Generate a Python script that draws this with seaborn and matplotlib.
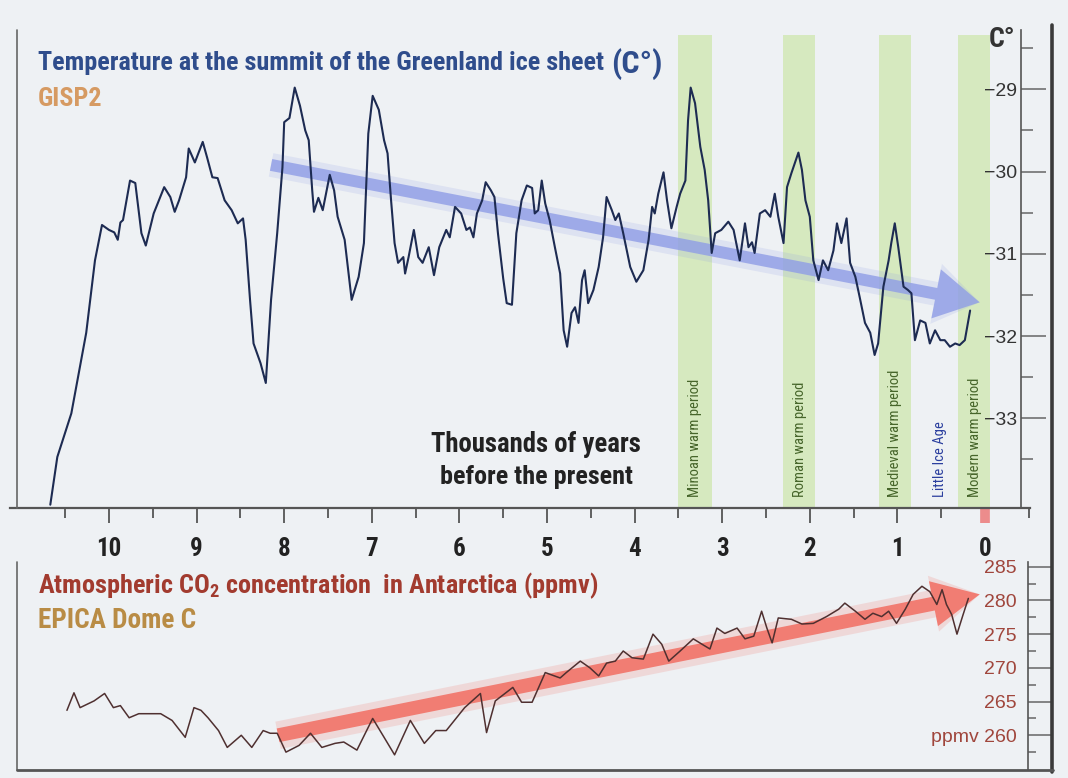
import numpy as np
import pandas as pd
import matplotlib
matplotlib.use("Agg")
import matplotlib.pyplot as plt
import seaborn as sns
from matplotlib.lines import Line2D
from matplotlib.ticker import FixedLocator
import matplotlib.transforms as mtransforms

# ---------------- data ----------------
temp_kyr = [10.67, 10.59, 10.43, 10.26, 10.16, 10.08, 10.00, 9.94, 9.90, 9.87, 9.84, 9.76, 9.70, 9.63, 9.58,
            9.49, 9.37, 9.30, 9.25, 9.20, 9.12, 9.09, 9.02, 8.93, 8.88, 8.82, 8.76, 8.68, 8.60, 8.53, 8.47,
            8.44, 8.39, 8.35, 8.27, 8.21, 8.15, 8.08, 8.02, 8.00, 7.94, 7.88, 7.82, 7.76, 7.72, 7.68, 7.66,
            7.61, 7.56, 7.48, 7.43, 7.39, 7.31, 7.23, 7.15, 7.09, 7.04, 6.99, 6.92, 6.86, 6.82, 6.78, 6.74,
            6.70, 6.64, 6.62, 6.58, 6.52, 6.47, 6.42, 6.35, 6.29, 6.23, 6.15, 6.11, 6.05, 5.98, 5.92, 5.88,
            5.84, 5.80, 5.74, 5.70, 5.64, 5.60, 5.56, 5.50, 5.46, 5.40, 5.35, 5.29, 5.23, 5.17, 5.14, 5.10,
            5.06, 5.02, 4.97, 4.91, 4.85, 4.81, 4.77, 4.72, 4.68, 4.64, 4.60, 4.57, 4.53, 4.47, 4.41, 4.36,
            4.32, 4.26, 4.22, 4.18, 4.13, 4.05, 3.98, 3.90, 3.84, 3.80, 3.77, 3.73, 3.67, 3.63, 3.58, 3.52,
            3.48, 3.42, 3.39, 3.36, 3.31, 3.25, 3.20, 3.16, 3.12, 3.08, 3.01, 2.93, 2.87, 2.80, 2.74, 2.70,
            2.66, 2.63, 2.57, 2.51, 2.45, 2.40, 2.36, 2.30, 2.26, 2.21, 2.13, 2.09, 2.05, 2.00, 1.96, 1.90,
            1.85, 1.79, 1.73, 1.69, 1.64, 1.58, 1.54, 1.48, 1.43, 1.37, 1.31, 1.26, 1.22, 1.16, 1.10, 1.07,
            1.03, 0.99, 0.93, 0.88, 0.84, 0.80, 0.74, 0.68, 0.63, 0.57, 0.51, 0.46, 0.40, 0.34, 0.29, 0.23,
            0.17]
temp_c = [-34.05, -33.47, -32.94, -31.96, -31.08, -30.65, -30.71, -30.74, -30.83, -30.62, -30.59, -30.11,
          -30.14, -30.75, -30.90, -30.51, -30.19, -30.31, -30.49, -30.35, -30.07, -29.72, -29.89, -29.64,
          -29.83, -30.07, -30.08, -30.35, -30.47, -30.63, -30.57, -30.83, -31.56, -32.09, -32.33, -32.57,
          -31.56, -30.75, -29.95, -29.40, -29.35, -28.98, -29.20, -29.50, -29.62, -30.23, -30.49, -30.32,
          -30.47, -30.04, -30.23, -30.55, -30.83, -31.56, -31.28, -30.87, -29.54, -29.08, -29.25, -29.62,
          -29.78, -30.35, -30.87, -31.11, -31.04, -31.24, -31.04, -30.71, -31.04, -31.11, -30.92, -31.26,
          -30.92, -30.71, -30.80, -30.43, -30.51, -30.71, -30.68, -30.80, -30.51, -30.35, -30.13, -30.23,
          -30.31, -30.75, -31.30, -31.60, -31.62, -30.75, -30.35, -30.17, -30.20, -30.51, -30.47, -30.11,
          -30.39, -30.59, -30.92, -31.24, -31.93, -32.13, -31.72, -31.65, -31.84, -31.32, -31.20, -31.60,
          -31.44, -31.16, -30.80, -30.31, -30.47, -30.59, -30.51, -30.75, -31.16, -31.34, -31.20, -30.83,
          -30.43, -30.51, -30.27, -30.01, -30.35, -30.69, -30.43, -30.27, -30.11, -29.38, -28.98, -29.17,
          -29.70, -29.98, -30.35, -30.99, -30.75, -30.71, -30.61, -30.71, -31.08, -30.63, -30.92, -30.86,
          -30.99, -30.51, -30.47, -30.55, -30.27, -30.55, -30.87, -30.19, -30.02, -29.77, -29.98, -30.35,
          -30.55, -31.08, -31.32, -31.08, -31.20, -30.96, -30.63, -30.87, -30.57, -31.11, -31.28, -31.53,
          -31.84, -31.96, -32.23, -32.09, -31.40, -31.08, -30.87, -30.63, -30.92, -31.40, -31.44, -31.48,
          -32.05, -31.81, -31.84, -32.09, -31.93, -32.05, -32.05, -32.13, -32.09, -32.11, -32.05, -31.69]

co2_kyr = [10.48, 10.40, 10.33, 10.17, 10.05, 9.95, 9.87, 9.77, 9.66, 9.41, 9.28, 9.13, 9.03, 8.95, 8.87,
           8.75, 8.65, 8.49, 8.37, 8.24, 8.16, 8.08, 7.98, 7.83, 7.70, 7.57, 7.42, 7.32, 7.17, 6.99, 6.86,
           6.74, 6.56, 6.40, 6.27, 6.15, 5.94, 5.76, 5.69, 5.59, 5.39, 5.29, 5.17, 5.02, 4.85, 4.78, 4.62,
           4.51, 4.41, 4.32, 4.22, 4.13, 4.03, 3.90, 3.79, 3.69, 3.61, 3.48, 3.33, 3.23, 3.14, 3.06, 2.97,
           2.83, 2.74, 2.64, 2.55, 2.49, 2.43, 2.36, 2.21, 2.09, 1.96, 1.81, 1.67, 1.60, 1.48, 1.37, 1.28,
           1.18, 1.10, 1.01, 0.91, 0.82, 0.72, 0.63, 0.55, 0.49, 0.44, 0.38, 0.32, 0.25, 0.19]
co2_ppmv = [263.7, 266.3, 264.1, 265.1, 266.2, 264.1, 264.4, 262.6, 263.2, 263.2, 262.2, 259.7, 264.1, 263.7,
            262.6, 260.7, 258.2, 260.0, 258.2, 260.7, 260.3, 260.3, 257.5, 258.5, 260.3, 258.2, 258.8, 259.0,
            257.8, 262.5, 259.7, 257.1, 262.2, 258.8, 260.7, 260.7, 264.1, 266.2, 260.4, 265.1, 267.1, 264.9,
            264.9, 269.3, 268.5, 269.3, 271.0, 270.0, 268.8, 270.7, 271.0, 272.5, 271.5, 271.3, 275.0, 273.5,
            271.0, 272.5, 274.3, 273.5, 272.8, 275.9, 275.1, 275.9, 274.3, 274.7, 278.4, 275.9, 273.7, 277.4,
            277.2, 276.5, 276.6, 277.6, 278.7, 279.6, 278.4, 277.2, 278.1, 277.6, 278.4, 276.6, 278.7, 280.9,
            282.1, 281.3, 279.4, 281.6, 279.4, 277.9, 275.0, 277.9, 280.3]

# trend arrows (start, end) in data units
temp_trend_kyr = [8.15, 0.06]
temp_trend_c = [-29.92, -31.59]
co2_trend_kyr = [8.07, 0.06]
co2_trend_ppmv = [260.0, 280.9]

# warm periods (green bands)
period_names = ["Minoan warm period", "Roman warm period", "Medieval warm period", "Modern warm period"]
period_start = [3.50, 2.31, 1.21, 0.31]
period_end = [3.12, 1.94, 0.84, -0.06]
label_names = ["Minoan warm period", "Roman warm period", "Medieval warm period", "Little Ice Age",
               "Modern warm period"]
label_kyr = [3.31, 2.11, 1.03, 0.51, 0.11]

x_ticks = list(range(0, 11))
x_labels = [str(v) for v in x_ticks]
temp_ticks = [-33, -32, -31, -30, -29]
temp_labels = ["\u221233", "\u221232", "\u221231", "\u221230", "\u221229"]
co2_ticks = [260, 265, 270, 275, 280, 285]
co2_labels = ["ppmv 260", "265", "270", "275", "280", "285"]

# ---------------- style ----------------
sns.set_theme(style="white")
NARROW = ["Roboto Condensed", "Liberation Sans Narrow", "Liberation Sans", "DejaVu Sans"]
REG = ["Liberation Sans", "DejaVu Sans"]
plt.rcParams["font.family"] = NARROW
plt.rcParams["mathtext.default"] = "regular"

W, H = 1068, 778
BG = "#eef1f4"
fig = plt.figure(figsize=(W / 100, H / 100), dpi=100)
fig.patch.set_facecolor(BG)


def box(x0, y0, x1, y1):
    return [x0 / W, 1 - y1 / H, (x1 - x0) / W, (y1 - y0) / H]


def px2kyr(p):
    return (985 - p) / 87.6


ax1 = fig.add_axes(box(10, 30, 1030, 508))
ax2 = fig.add_axes(box(17, 562, 1028, 770))
for ax in (ax1, ax2):
    ax.set_facecolor("none")

# ---- top panel ----
ax1.set_xlim(px2kyr(10), px2kyr(1030))
ax1.set_ylim(-34.09, -28.28)

for s, e in zip(period_start, period_end):
    ax1.axvspan(s, e, ymin=0.0, ymax=0.99, color="#d2e8b6", alpha=0.85, lw=0, zorder=0)


def trend_arrow(ax, xs, ys, color, tail, hw, hl, alpha):
    for tw_scale, hw_add, a in [(2.0, 0.8, alpha * 0.22), (1.0, 0.0, alpha)]:
        ax.annotate("", xy=(xs[1], ys[1]), xytext=(xs[0], ys[0]),
                    arrowprops=dict(arrowstyle=f"simple,head_length={hl},head_width={hw + hw_add},"
                                               f"tail_width={tail * tw_scale}",
                                    mutation_scale=10, color=color, alpha=a, lw=0,
                                    shrinkA=0, shrinkB=0), zorder=2)


trend_arrow(ax1, temp_trend_kyr, temp_trend_c, "#8f9de6", 0.86, 3.6, 3.2, 0.8)

sns.lineplot(x=temp_kyr, y=temp_c, ax=ax1, color="#1d2b52", lw=1.5, estimator=None, sort=False, zorder=3)

ax1.set_xlabel("")
ax1.set_ylabel("")
for sp in ("top", "right"):
    ax1.spines[sp].set_visible(False)
ax1.spines["bottom"].set_color("#555555")
ax1.spines["bottom"].set_linewidth(1.6)
ax1.spines["left"].set_position(("axes", (1021 - 10) / (1030 - 10)))
ax1.spines["left"].set_color("#555555")
ax1.spines["left"].set_linewidth(1.2)

ax1.set_xticks(x_ticks, labels=x_labels, fontsize=18, fontweight="bold", color="#222222")
ax1.xaxis.set_minor_locator(FixedLocator([v + 0.5 for v in range(-1, 11)]))
ax1.tick_params(axis="x", which="major", direction="out", length=11, width=1.3, color="#555555", pad=10,
                bottom=True)
ax1.tick_params(axis="x", which="minor", direction="out", length=7, width=1.3, color="#555555", bottom=True)
for t in ax1.xaxis.get_major_ticks():
    if t.get_loc() == 0:
        t.tick1line.set_markeredgecolor("#ec8c8c")
        t.tick1line.set_markeredgewidth(7)

ax1.set_yticks(temp_ticks, labels=temp_labels, fontsize=14, color="#333333", fontfamily=REG)
ax1.yaxis.set_minor_locator(FixedLocator([-33.5, -32.5, -31.5, -30.5, -29.5, -28.5]))
ax1.tick_params(axis="y", which="major", direction="in", length=18, width=1.1, color="#666666", pad=3,
                left=True, right=False)
ax1.tick_params(axis="y", which="minor", direction="in", length=8.5, width=1.1, color="#666666",
                left=True, right=False)

trans1 = mtransforms.blended_transform_factory(ax1.transData, ax1.transAxes)
for name, kx in zip(label_names, label_kyr):
    col = "#2b3f9e" if name == "Little Ice Age" else "#46652a"
    ax1.text(kx, 0.023, name, rotation=90, ha="center", va="bottom", fontsize=10.5,
             color=col, transform=trans1, zorder=4)

# ---- bottom panel ----
ax2.set_xlim(px2kyr(17), px2kyr(1028))
ax2.set_ylim(254.85, 285.7)
trend_arrow(ax2, co2_trend_kyr, co2_trend_ppmv, "#f2665a", 1.0, 3.3, 3.4, 0.8)
sns.lineplot(x=co2_kyr, y=co2_ppmv, ax=ax2, color="#4f3030", lw=1.1, estimator=None, sort=False, zorder=3)
ax2.set_xlabel("")
ax2.set_ylabel("")
for sp in ("top", "right", "bottom"):
    ax2.spines[sp].set_visible(False)
ax2.spines["left"].set_position(("axes", 1.0))
ax2.spines["left"].set_color("#555555")
ax2.spines["left"].set_linewidth(1.2)
ax2.set_xticks([])
ax2.set_yticks(co2_ticks, labels=co2_labels, fontsize=14, color="#a0463c", fontfamily=REG)
ax2.yaxis.set_minor_locator(FixedLocator([257.5, 262.5, 267.5, 272.5, 277.5, 282.5]))
ax2.tick_params(axis="y", which="major", direction="in", length=17, width=1.1, color="#666666", pad=8,
                left=True, right=False)
ax2.tick_params(axis="y", which="minor", direction="in", length=6, width=1.1, color="#666666",
                left=True, right=False)


# ---- frame lines ----
def fline(xs, ys, **kw):
    fig.add_artist(Line2D([x / W for x in xs], [1 - y / H for y in ys], **kw))


fline([17, 17], [30, 508], color="#666666", lw=1.2)
fline([17, 17], [562, 770], color="#666666", lw=1.2)
fline([1052, 1052], [25, 772], color="#3a3a3a", lw=2.6)
fline([17, 1053], [770, 770], color="#555555", lw=2.0)

# ---- texts ----
renderer = fig.canvas.get_renderer()


def ftext(x, y, s, width=None, **kw):
    t = fig.text(x / W, 1 - y / H, s, **kw)
    if width is not None:
        w = t.get_window_extent(renderer).width
        t.set_fontsize(t.get_fontsize() * width / w)
    return t


t1 = ftext(38, 70, "Temperature at the summit of the Greenland ice sheet", width=567, fontsize=18,
           fontweight="bold", color="#2f4d8c", va="baseline", ha="left")
x_end = t1.get_window_extent(renderer).x1
ftext(x_end + 7, 73, "(C\u00b0)", fontsize=23, fontweight="bold", color="#2f4d8c", va="baseline", ha="left")
ftext(38, 106, "GISP2", width=65, fontsize=15, fontweight="bold", color="#d69a62", va="baseline", ha="left")
ftext(1015, 47, "C\u00b0", fontsize=20, fontweight="bold", color="#333333", va="baseline", ha="right")
ftext(536, 452, "Thousands of years", width=210, fontsize=18, fontweight="bold", color="#222222",
      va="baseline", ha="center")
ftext(536, 484, "before the present", width=193, fontsize=18, fontweight="bold", color="#222222",
      va="baseline", ha="center")
ftext(38, 593, "Atmospheric CO$_2$ concentration  in Antarctica (ppmv)", width=560, fontsize=17.5,
      fontweight="bold", color="#a23b2f", va="baseline", ha="left")
ftext(38, 628, "EPICA Dome C", width=159, fontsize=15, fontweight="bold", color="#b98c45", va="baseline",
      ha="left")

fig.savefig("out.png", dpi=100, facecolor=BG)
